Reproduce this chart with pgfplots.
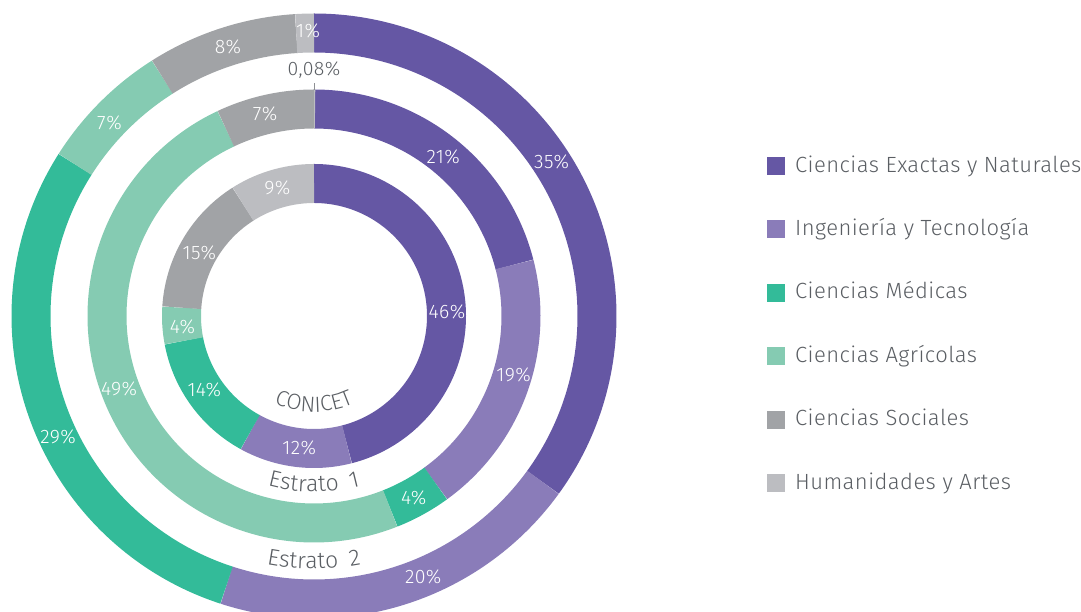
\documentclass[border=0pt]{standalone}
\usepackage{fontspec}
\setmainfont{Fira Sans}[UprightFont={* Light}, LetterSpace=2]
\newfontfamily\curvefont{Fira Sans}[UprightFont={* Light}, LetterSpace=24]
\usepackage{pgfplots}
\pgfplotsset{compat=1.18}
\usetikzlibrary{decorations.text}

\definecolor{c1}{HTML}{6557A4}
\definecolor{c2}{HTML}{8A7CB9}
\definecolor{c3}{HTML}{33BB99}
\definecolor{c4}{HTML}{85CBB2}
\definecolor{c5}{HTML}{A1A3A6}
\definecolor{c6}{HTML}{BCBDC1}
\definecolor{txt}{HTML}{5A5E63}
\definecolor{lead}{HTML}{8E9094}

% ring: #1 = mean radius (pt), #2 = shares in % (clockwise from 12 o'clock)
\newcommand\ring[2]{%
  \gdef\cum{0}%
  \foreach \v [count=\i] in {#2} {%
    \pgfmathsetmacro\a{90-3.6*(\cum+\v)}%
    \pgfmathsetmacro\b{90-3.6*\cum}%
    \pgfmathtruncatemacro\ns{max(4,abs(\b-\a))}%
    \edef\tmp{\noexpand\addplot[forget plot, draw=c\i, line width=39pt,
      data cs=polar, domain=\a:\b, samples=\ns] {#1};}%
    \tmp
    \pgfmathsetmacro\nc{\cum+\v}\xdef\cum{\nc}%
  }}
\newcommand\lab[3]{\path (axis cs:0,0) ++(#1:#2pt) node[text=white, font=\fontsize{19.5}{21}\selectfont] {#3};}

\begin{document}
\begin{tikzpicture}
\useasboundingbox (0,0) rectangle (1081pt,612pt);
\begin{axis}[
  at={(0,0)}, anchor=south west,
  x=1pt, y=1pt,
  xmin=-314, xmax=767, ymin=-296, ymax=316,
  hide axis, clip=true,
  legend cell align=left,
  legend image code/.code={\fill[#1] (0pt,-9pt) rectangle (18pt,9pt);},
  legend style={at={(0.7095,0.747)}, anchor=north west, draw=none, fill=none,
    font=\fontsize{22}{24}\selectfont, text=txt, row sep=41.4pt, inner sep=0pt,
    nodes={inner sep=1pt, text height=16pt, text depth=4pt},
    /tikz/every odd column/.append style={column sep=9pt}},
]
% CONICET
\ring{132.5}{46,12,14,4,15,9}
% Estrato 1
\ring{207}{21,19,4,49,7,0.08}
% Estrato 2
\ring{283}{35,20,29,7,8,1}

\addlegendimage{fill=c1, draw=none}\addlegendentry{Ciencias Exactas y Naturales}
\addlegendimage{fill=c2, draw=none}\addlegendentry{Ingeniería y Tecnología}
\addlegendimage{fill=c3, draw=none}\addlegendentry{Ciencias Médicas}
\addlegendimage{fill=c4, draw=none}\addlegendentry{Ciencias Agrícolas}
\addlegendimage{fill=c5, draw=none}\addlegendentry{Ciencias Sociales}
\addlegendimage{fill=c6, draw=none}\addlegendentry{Humanidades y Artes}

% labels inner
\lab{1.7}{133}{46\%}
\lab{263.6}{133}{12\%}
\lab{213.8}{132}{14\%}
\lab{184.8}{132}{4\%}
\lab{151}{131}{15\%}
\lab{106}{133}{9\%}
% labels middle
\lab{50.9}{205}{21\%}
\lab{-16.4}{208}{19\%}
\lab{-61.2}{207}{4\%}
\lab{200.4}{208}{49\%}
\lab{103.6}{208}{7\%}
% labels outer
\lab{32.9}{283}{35\%}
\lab{-67.3}{283}{20\%}
\lab{205.3}{283}{29\%}
\lab{136.7}{281}{7\%}
\lab{107.7}{283}{8\%}
\lab{91.2}{285}{1\%}

\draw[lead, line width=0.9pt] (axis cs:0,226) -- (axis cs:0,233);
\node[text=txt, font=\fontsize{19.5}{21}\selectfont] at (axis cs:0,246) {0,08\%};
\end{axis}

\path[decoration={text along path, text={|\curvefont\fontsize{22}{24}\selectfont\color{txt}|CONICET}, text align=center}, decorate]
  (314pt,296pt) ++(230:96pt) arc[start angle=230, end angle=310, radius=96pt];
\path[decoration={text along path, text={|\curvefont\fontsize{23}{25}\selectfont\color{txt}|Estrato 1}, text align=center}, decorate]
  (314pt,296pt) ++(240:176pt) arc[start angle=240, end angle=300, radius=176pt];
\path[decoration={text along path, text={|\curvefont\fontsize{23}{25}\selectfont\color{txt}|Estrato 2}, text align=center}, decorate]
  (314pt,296pt) ++(245:253pt) arc[start angle=245, end angle=295, radius=253pt];
\end{tikzpicture}
\end{document}
